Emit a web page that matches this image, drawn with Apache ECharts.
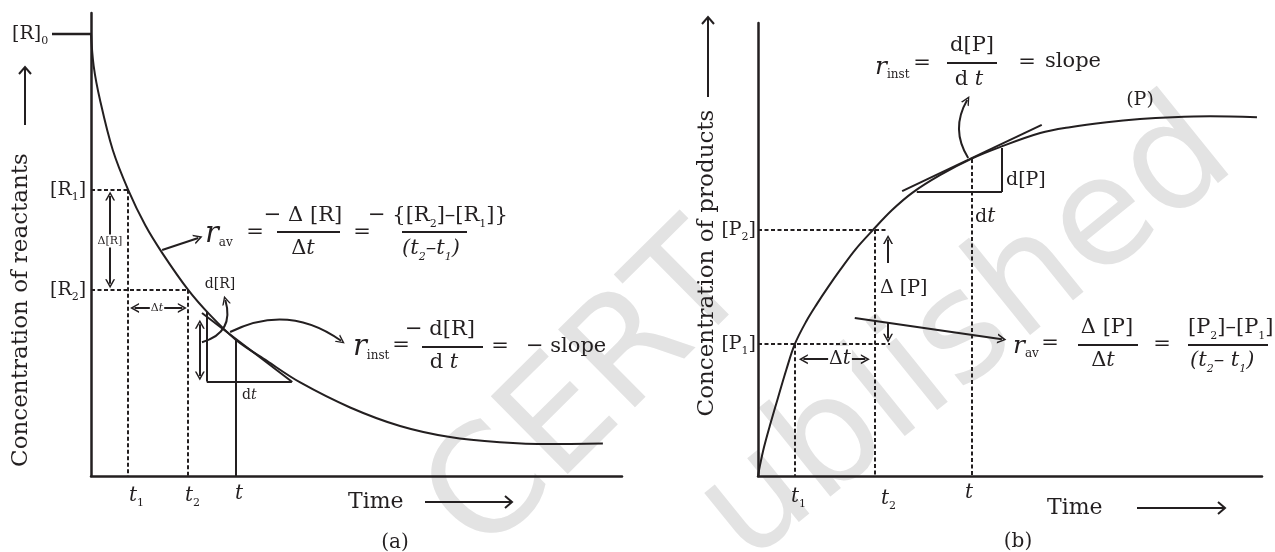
<!DOCTYPE html>
<html><head><meta charset="utf-8">
<script src="https://cdn.jsdelivr.net/npm/echarts@6/dist/echarts.min.js"></script>
<style>html,body{margin:0;padding:0;background:#fff}#c{width:1275px;height:552px}</style>
</head><body><div id="c"></div>
<script>
// ---------- data (arbitrary units: time 0..100, concentration 0..100) ----------
const curveA_time = [0,0.5,1.7,4.1,7.0,10.2,13.4,18.3,22.4,27.3,33.2,39.4,48.8,58.2,67.6,77.0,86.4,96.4];
const curveA_conc = [95.5,88.6,81.2,70.4,61.8,54.2,48.2,40.2,34.8,29.4,24.8,20.2,14.8,10.8,8.4,7.3,6.9,7.0];
const curveB_time = [0,0.4,1.2,2.4,4.0,5.6,7.3,9.5,11.7,13.9,16.3,19.4,22.8,26.6,30.6,36.1,42.3,48.0,56.0,61.9,69.2,75.8,82.3,89.7,99.0];
const curveB_conc = [0,2.4,6.4,11.3,17.4,23.4,29.1,34.0,38.0,41.7,45.5,50.1,54.3,58.7,62.5,66.4,70.0,72.6,75.7,77.0,78.1,78.8,79.2,79.4,79.2];
// marked times t1, t2, t and concentrations
const timeMarksA = [7.0, 18.3, 27.3];
const concMarksA = [95.5, 61.8, 40.2, 29.4];   // [R]0, [R1], [R2], [R](t)
const timeMarksB = [7.3, 23.2, 42.4];
const concMarksB = [29.1, 54.3, 70.0];         // [P1], [P2], [P](t)
const pGuideEndB = [26.2, 25.8];
// straight annotation arrows: x1,y1,x2,y2, heads
const arrowsA = [
  [3.6,60.5,3.6,41.5,'both'],
  [8.2,36.3,17.2,36.3,'both'],
  [13.4,48.8,20.2,51.4,'end'],
  [20.5,32.8,20.5,21.6,'both']
];
// curved arrows: x1,y1,x2,y2, curveness
const curvedA = [
  [20.9,28.9,25.3,38.0,-0.5],
  [26.2,31.1,47.1,29.2,0.3]
];
const tangentA = [20.9,35.2,37.9,20.3];
const triangleA = [[21.8,35.5],[21.8,20.4],[37.8,20.4]];
const arrowsB = [
  [25.8,47.0,25.8,52.2,'end'],
  [25.8,34.0,25.8,30.4,'end'],
  [9.0,25.8,21.3,25.8,'both'],
  [19.2,34.9,48.4,30.2,'end']
];
const curvedB = [
  [41.7,70.2,41.5,83.0,0.3]
];
const tangentB = [28.6,62.9,56.3,77.5];
const triangleB = [[31.5,62.7],[48.4,62.7],[48.4,72.4]];

// ---------- styling ----------
const INK = '#231f20';
const F = '"DejaVu Serif","Liberation Serif",serif';
const ARROW = 'path://M0,10 L6,0 L12,10 L10,10 L6,3.4 L2,10 Z';

function seg(x1,y1,x2,y2,o){
  o = o || {};
  const sz = o.size || [10,9];
  return [
    {coord:[x1,y1], symbol:o.start?ARROW:'none', symbolSize:sz,
     lineStyle:{color:INK,width:o.w||2,type:o.dash?[4,2.5]:'solid'}},
    {coord:[x2,y2], symbol:o.end?ARROW:'none', symbolSize:sz}
  ];
}
function arrowSegs(list){
  return list.map(a => seg(a[0],a[1],a[2],a[3],{start:a[4]==='both', end:true}));
}
function polySegs(pts, o){
  const out=[];
  for(let i=0;i<pts.length-1;i++) out.push(seg(pts[i][0],pts[i][1],pts[i+1][0],pts[i+1][1],o));
  return out;
}

const segsA = [
  seg(0,concMarksA[1],timeMarksA[0],concMarksA[1],{dash:true}),
  seg(0,concMarksA[2],timeMarksA[1],concMarksA[2],{dash:true}),
  seg(timeMarksA[0],concMarksA[1],timeMarksA[0],0,{dash:true}),
  seg(timeMarksA[1],concMarksA[2],timeMarksA[1],0,{dash:true}),
  seg(timeMarksA[2],concMarksA[3],timeMarksA[2],0,{w:2}),
  seg(tangentA[0],tangentA[1],tangentA[2],tangentA[3],{w:2}),
  ...polySegs(triangleA,{w:2}),
  ...arrowSegs(arrowsA)
];
const segsB = [
  seg(0,concMarksB[0],pGuideEndB[0],concMarksB[0],{dash:true}),
  seg(0,concMarksB[1],pGuideEndB[1],concMarksB[1],{dash:true}),
  seg(timeMarksB[0],concMarksB[0],timeMarksB[0],0,{dash:true}),
  seg(timeMarksB[1],concMarksB[1],timeMarksB[1],0,{dash:true}),
  seg(timeMarksB[2],concMarksB[2],timeMarksB[2],0,{dash:true}),
  seg(tangentB[0],tangentB[1],tangentB[2],tangentB[3],{w:2}),
  ...polySegs(triangleB,{w:2}),
  ...arrowSegs(arrowsB)
];

const R = {
  n:{fontFamily:F,fontSize:19,lineHeight:26,fill:INK},
  e:{fontFamily:F,fontSize:21,lineHeight:28,fill:INK},
  ei:{fontFamily:F,fontStyle:'italic',fontSize:21,lineHeight:28,fill:INK},
  i:{fontFamily:F,fontStyle:'italic',fontSize:20,lineHeight:26,fill:INK},
  s:{fontFamily:F,fontSize:11,lineHeight:15,verticalAlign:'bottom',fill:INK},
  si:{fontFamily:F,fontStyle:'italic',fontSize:11,lineHeight:15,verticalAlign:'bottom',fill:INK},
  r:{fontFamily:F,fontStyle:'italic',fontSize:29,lineHeight:30,fill:INK},
  rb:{fontFamily:F,fontStyle:'italic',fontSize:25,lineHeight:28,fill:INK},
  sub:{fontFamily:F,fontSize:12,lineHeight:17,verticalAlign:'bottom',fill:INK},
  sm:{fontFamily:F,fontSize:11,lineHeight:13,fill:INK},
  smi:{fontFamily:F,fontStyle:'italic',fontSize:11,lineHeight:13,fill:INK},
  m:{fontFamily:F,fontSize:14,lineHeight:18,fill:INK},
  mi:{fontFamily:F,fontStyle:'italic',fontSize:14,lineHeight:18,fill:INK}
};
function T(x,y,text,o){
  o = o || {};
  const st = {text:text, rich:R, fill:INK, font:(o.size||21)+'px '+F,
              align:o.align||'left', verticalAlign:'middle'};
  if(o.bg){ st.backgroundColor='#fff'; st.padding=[0,1]; }
  return {type:'text', x:x, y:y, z:100, rotation:o.rot||0, style:st};
}
function L(x1,y1,x2,y2,w){
  return {type:'line', z:100, shape:{x1,y1,x2,y2}, style:{stroke:INK,lineWidth:w||2}};
}
function P(pts){
  return {type:'polyline', z:100, shape:{points:pts}, style:{stroke:INK,lineWidth:2,fill:null}};
}
function W(x,y,text,rot,size){
  return {type:'text', x:x, y:y, z:-10, rotation:rot, silent:true,
    style:{text:text, fill:'#e3e3e3', font:size+'px "DejaVu Sans", sans-serif',
           align:'center', verticalAlign:'middle'}};
}

const graphics = [
  // watermark
  W(592,395,'CERT',0.78,150),
  W(968,335,'ublished',0.68,150),
  // panel (a) labels
  T(12,34,'{n|[R]}{s|0}'),
  L(52,34,91,34,2.5),
  T(50,190,'{n|[R}{s|1}{n|]}'),
  T(50,290,'{n|[R}{s|2}{n|]}'),
  L(25,125,25,68), P([[19,74],[25,67],[31,74]]),
  T(21,310,'Concentration of reactants',{size:23,rot:Math.PI/2,align:'center'}),
  T(110,241,'{sm|Δ[R]}',{align:'center',bg:true}),
  T(157,308,'{sm|Δ}{smi|t}',{align:'center',bg:true}),
  T(220,284,'{m|d[R]}',{align:'center'}),
  T(242,395,'{m|d}{mi|t}'),
  T(129,496,'{i|t}{s|1}'),
  T(185,496,'{i|t}{s|2}'),
  T(235,494,'{i|t}'),
  T(348,502,'Time',{size:22}),
  L(425,502,511,502), P([[505,496],[512,502],[505,508]]),
  T(395,543,'(a)',{size:20,align:'center'}),
  // r_av equation (a)
  T(205,234,'{r|r}{sub|av}'),
  T(255,233,'{e|=}',{align:'center'}),
  T(303,216,'{e|− Δ [R]}',{align:'center'}),
  L(277,232,340,232),
  T(303,249,'{e|Δ}{ei|t}',{align:'center'}),
  T(362,233,'{e|=}',{align:'center'}),
  T(368,216,'{e|− }{{e|[R}{s|2}{e|]–[R}{s|1}{e|]}}',{size:21}),
  L(402,232,467,232),
  T(431,249,'{ei|(t}{si|2}{ei|–t}{si|1}{ei|)}',{align:'center'}),
  // r_inst equation (a)
  T(353,347,'{r|r}{sub|inst}'),
  T(401,346,'{e|=}',{align:'center'}),
  T(440,330,'{e|− d[R]}',{align:'center'}),
  L(422,347,483,347),
  T(444,363,'{e|d }{ei|t}',{align:'center'}),
  T(500,347,'{e|=}',{align:'center'}),
  T(526,347,'{e|− slope}'),
  // panel (b) labels
  T(756,230,'{n|[P}{s|2}{n|]}',{align:'right'}),
  T(756,344,'{n|[P}{s|1}{n|]}',{align:'right'}),
  L(708,97,708,18), P([[702,24],[708,17],[714,24]]),
  T(707,263,'Concentration of products',{size:23,rot:Math.PI/2,align:'center'}),
  T(880,288,'{n|Δ [P]}'),
  T(840,359,'{n|Δ}{i|t}',{align:'center',bg:true}),
  T(1006,180,'{n|d[P]}'),
  T(975,217,'{n|d}{i|t}'),
  T(1140,100,'{n|(P)}',{align:'center'}),
  T(791,497,'{i|t}{s|1}'),
  T(881,499,'{i|t}{s|2}'),
  T(965,493,'{i|t}'),
  T(1047,508,'Time',{size:22}),
  L(1137,508,1224,508), P([[1218,502],[1225,508],[1218,514]]),
  T(1018,542,'(b)',{size:20,align:'center'}),
  // r_inst equation (b)
  T(875,67,'{rb|r}{sub|inst}'),
  T(922,64,'{e|=}',{align:'center'}),
  T(972,46,'{e|d[P]}',{align:'center'}),
  L(947,63,997,63),
  T(969,80,'{e|d }{ei|t}',{align:'center'}),
  T(1027,63,'{e|=}',{align:'center'}),
  T(1045,62,'{e|slope}'),
  // r_av equation (b)
  T(1013,346,'{rb|r}{sub|av}'),
  T(1050,344,'{e|=}',{align:'center'}),
  T(1107,328,'{e|Δ [P]}',{align:'center'}),
  L(1078,345,1138,345),
  T(1103,361,'{e|Δ}{ei|t}',{align:'center'}),
  T(1162,345,'{e|=}',{align:'center'}),
  T(1188,328,'{e|[P}{s|2}{e|]–[P}{s|1}{e|]}'),
  L(1188,345,1268,345),
  T(1190,361,'{ei|(t}{si|2}{ei|– t}{si|1}{ei|)}')
];

function axis(gi){
  return {type:'value', gridIndex:gi, min:0, max:100,
    axisLine:{show:true, onZero:false, lineStyle:{color:INK,width:2.5}},
    axisTick:{show:false}, axisLabel:{show:false}, splitLine:{show:false}};
}
function curvedSeries(list, gi){
  return {type:'lines', coordinateSystem:'cartesian2d', xAxisIndex:gi, yAxisIndex:gi,
    silent:true, z:3, symbol:['none',ARROW], symbolSize:[10,9],
    lineStyle:{color:INK,width:2,opacity:1}, itemStyle:{color:INK},
    data:list.map(a=>({coords:[[a[0],a[1]],[a[2],a[3]]], lineStyle:{curveness:a[4],color:INK,width:2}}))};
}

const chart = echarts.init(document.getElementById('c'), null, {renderer:'canvas'});
chart.setOption({
  animation:false,
  backgroundColor:'#fff',
  grid:[
    {left:91, top:13, width:531, height:463},
    {left:758, top:23, width:504, height:453}
  ],
  xAxis:[axis(0), axis(1)],
  yAxis:[axis(0), axis(1)],
  series:[
    {type:'line', xAxisIndex:0, yAxisIndex:0, smooth:0.35, showSymbol:false, clip:false, silent:true,
     lineStyle:{color:INK,width:2},
     data:curveA_time.map((t,i)=>[t,curveA_conc[i]]),
     markLine:{silent:true, animation:false, symbol:['none','none'], label:{show:false},
       lineStyle:{color:INK}, itemStyle:{color:INK}, emphasis:{disabled:true}, data:segsA}},
    {type:'line', xAxisIndex:1, yAxisIndex:1, smooth:0.35, showSymbol:false, clip:false, silent:true,
     lineStyle:{color:INK,width:2},
     data:curveB_time.map((t,i)=>[t,curveB_conc[i]]),
     markLine:{silent:true, animation:false, symbol:['none','none'], label:{show:false},
       lineStyle:{color:INK}, itemStyle:{color:INK}, emphasis:{disabled:true}, data:segsB}},
    curvedSeries(curvedA, 0),
    curvedSeries(curvedB, 1)
  ],
  graphic:graphics
});
</script></body></html>
